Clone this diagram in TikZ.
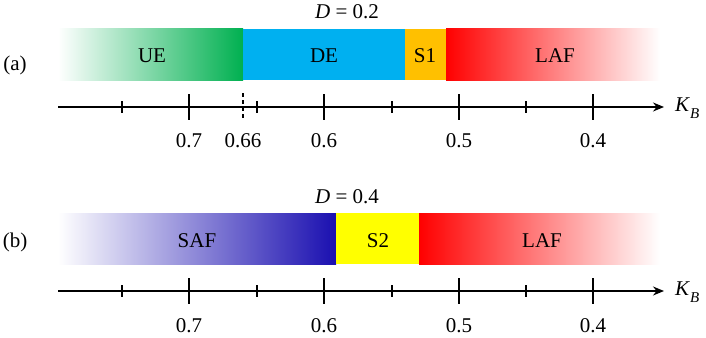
\documentclass[tikz,border=0pt]{standalone}
\usepackage{fontspec}
\setmainfont{Liberation Serif}
\usetikzlibrary{arrows.meta}
\definecolor{ueG}{HTML}{00B050}
\definecolor{deC}{HTML}{00B0F0}
\definecolor{sOne}{HTML}{FFC000}
\definecolor{sTwo}{HTML}{FFFF00}
\definecolor{lafR}{HTML}{FF0000}
\definecolor{safB}{HTML}{1A0FB0}
\tikzset{
  lbl/.style={inner sep=0pt, font=\fontsize{21}{23}\selectfont},
  axisline/.style={line width=1.6pt, -{Stealth[length=11pt,width=9pt]}},
  majtick/.style={line width=1.6pt},
  mintick/.style={line width=1.3pt},
  dtick/.style={line width=1.3pt, dash pattern=on 4pt off 3pt},
}
\newcommand{\KBlabel}{\textit{K}\raisebox{-0.35em}{\fontsize{15}{15}\selectfont\textit{B}}}
\begin{document}
\begin{tikzpicture}[x=1pt,y=-1pt]
\useasboundingbox (0,0) rectangle (706,337);
% ---------- panel (a)
\shade[left color=white, right color=ueG] (58,29) rectangle (243,80);
\fill[deC] (243,29) rectangle (405,80);
\fill[sOne] (405,29) rectangle (446,80);
\shade[left color=lafR, right color=white] (446,29) rectangle (660,80);
\node[lbl] (dA) at (347,12) {\textit{D} = 0.2};
\node[lbl] (pa) at (15,65) {(a)};
\node[lbl] (ue) at (152,56) {UE};
\node[lbl] (de) at (324,56) {DE};
\node[lbl] (s1) at (425,56) {S1};
\node[lbl] (lafa) at (555,56) {LAF};
\coordinate (a0) at (58,107);
\coordinate (a1) at (664,107);
\draw[axisline] (a0) -- (a1);
\node[lbl, anchor=west] (kba) at (675,108) {\KBlabel};
\foreach \x/\t in {189/0.7,324/0.6,459/0.5,593/0.4}{
  \draw[majtick] (\x,94) -- (\x,120);
  \node[lbl] at (\x,141) {\t};
}
\foreach \x in {122,257,392,526}{
  \draw[mintick] (\x,101) -- (\x,113);
}
\draw[dtick] (243,93) -- (243,120);
\node[lbl] (l066) at (243,141) {0.66};
% ---------- panel (b)
\shade[left color=white, right color=safB] (58,213) rectangle (336,264);
\fill[sTwo] (336,213) rectangle (419,264);
\shade[left color=lafR, right color=white] (419,213) rectangle (660,264);
\node[lbl] (dB) at (347,197) {\textit{D} = 0.4};
\node[lbl] (pb) at (15,242) {(b)};
\node[lbl] (saf) at (197,241) {SAF};
\node[lbl] (s2) at (378,241) {S2};
\node[lbl] (lafb) at (542,241) {LAF};
\coordinate (b0) at (58,291);
\coordinate (b1) at (664,291);
\draw[axisline] (b0) -- (b1);
\node[lbl, anchor=west] (kbb) at (675,292) {\KBlabel};
\foreach \x/\t in {189/0.7,324/0.6,459/0.5,593/0.4}{
  \draw[majtick] (\x,278) -- (\x,304);
  \node[lbl] at (\x,326) {\t};
}
\foreach \x in {122,257,392,526}{
  \draw[mintick] (\x,285) -- (\x,297);
}
\end{tikzpicture}
\end{document}
